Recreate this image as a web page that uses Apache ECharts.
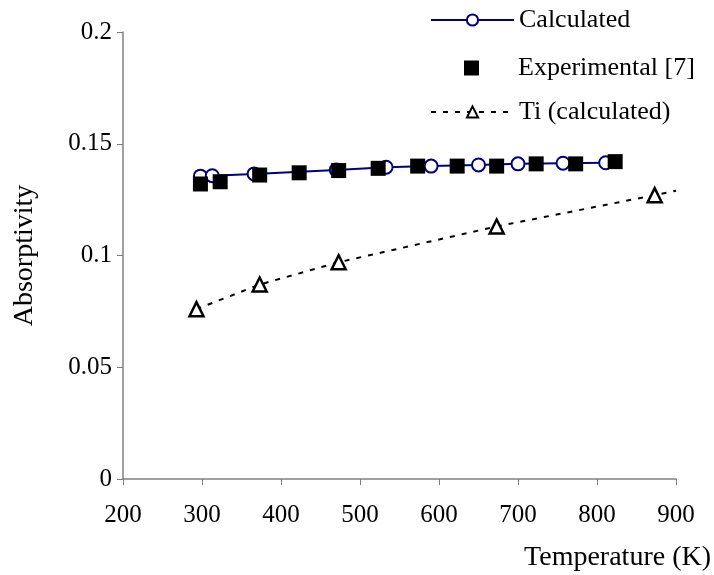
<!DOCTYPE html>
<html>
<head>
<meta charset="utf-8">
<script src="https://cdn.jsdelivr.net/npm/echarts@6/dist/echarts.min.js"></script>
<style>
html,body{margin:0;padding:0;background:#fff;}
#chart{width:714px;height:575px;}
</style>
</head>
<body>
<div id="chart"></div>
<script>
// Calculated absorptivity: [temperature K, absorptivity]
const calcT = [298, 313, 366, 470, 533, 590, 650, 700, 757, 811];
const calcA = [0.1355, 0.1357, 0.1365, 0.1383, 0.1395, 0.1400, 0.1405, 0.1410, 0.1413, 0.1415];
// Experimental [7]
const expT = [298, 323, 373, 423, 473, 523, 573, 623, 673, 723, 773, 823];
const expA = [0.132, 0.133, 0.136, 0.137, 0.138, 0.139, 0.140, 0.140, 0.140, 0.141, 0.141, 0.142];
// Ti (calculated) points, plus the dotted trend end at the axis edge
const tiT = [293, 373, 473, 673, 873];
const tiA = [0.076, 0.087, 0.097, 0.113, 0.127];
const tiLineEndT = 900;
const tiLineEndA = 0.129;
// Axis ticks
const xTicks = [200, 300, 400, 500, 600, 700, 800, 900];
const yTicks = [0, 0.05, 0.1, 0.15, 0.2];
const seriesNames = ['Calculated', 'Experimental [7]', 'Ti (calculated)'];

const FONT = 'Liberation Serif';
const zip = (a, b) => a.map((v, i) => [v, b[i]]);
const tiData = zip(tiT, tiA);
tiData.push({ value: [tiLineEndT, tiLineEndA], symbol: 'none' });

const legendText = { fontFamily: FONT, fontSize: 26, color: '#000' };

const chart = echarts.init(document.getElementById('chart'));
chart.setOption({
  animation: false,
  backgroundColor: '#fff',
  grid: { left: 123, right: 37, top: 32, bottom: 96, containLabel: false },
  legend: [
    {
      orient: 'vertical', left: 425, top: 2,
      itemWidth: 83, itemHeight: 14,
      textStyle: legendText,
      data: [seriesNames[0]]
    },
    {
      orient: 'vertical', left: 459, top: 50,
      itemWidth: 15, itemHeight: 15,
      textStyle: Object.assign({}, legendText, { padding: [0, 0, 0, 34] }),
      data: [seriesNames[1]]
    },
    {
      orient: 'vertical', left: 425, top: 94,
      itemWidth: 83, itemHeight: 14,
      textStyle: legendText,
      data: [seriesNames[2]]
    }
  ],
  xAxis: {
    type: 'value',
    min: xTicks[0],
    max: xTicks[xTicks.length - 1],
    interval: 100,
    name: 'Temperature (K)',
    nameLocation: 'end',
    nameGap: 35,
    nameTextStyle: { fontFamily: FONT, fontSize: 28, color: '#000', align: 'right', verticalAlign: 'top', padding: [65, 0, 0, 0] },
    axisLine: { onZero: false, lineStyle: { color: '#808080', width: 1.5 } },
    axisTick: { length: 6, lineStyle: { color: '#808080', width: 1 } },
    axisLabel: { fontFamily: FONT, fontSize: 25, color: '#000', margin: 24 },
    splitLine: { show: false }
  },
  yAxis: {
    type: 'value',
    min: yTicks[0],
    max: yTicks[yTicks.length - 1],
    interval: 0.05,
    name: 'Absorptivity',
    nameLocation: 'middle',
    nameGap: 84,
    nameTextStyle: { fontFamily: FONT, fontSize: 28, color: '#000' },
    axisLine: { show: true, lineStyle: { color: '#808080', width: 1.5 } },
    axisTick: { show: true, length: 6, lineStyle: { color: '#808080', width: 1 } },
    axisLabel: { fontFamily: FONT, fontSize: 25, color: '#000', margin: 11 },
    splitLine: { show: false }
  },
  series: [
    {
      name: seriesNames[0],
      type: 'line',
      data: zip(calcT, calcA),
      symbol: 'circle',
      symbolSize: 13,
      itemStyle: { color: '#fff', borderColor: '#000080', borderWidth: 2 },
      lineStyle: { color: '#000080', width: 2 },
      z: 2
    },
    {
      name: seriesNames[1],
      type: 'scatter',
      data: zip(expT, expA),
      symbol: 'rect',
      symbolSize: 15,
      itemStyle: { color: '#000', opacity: 1 },
      z: 3
    },
    {
      name: seriesNames[2],
      type: 'line',
      data: tiData,
      symbol: 'triangle',
      symbolSize: 14,
      itemStyle: { color: '#fff', borderColor: '#000', borderWidth: 2.5 },
      lineStyle: { color: '#000', width: 2, type: [5, 7] },
      z: 2
    }
  ]
});
</script>
</body>
</html>
